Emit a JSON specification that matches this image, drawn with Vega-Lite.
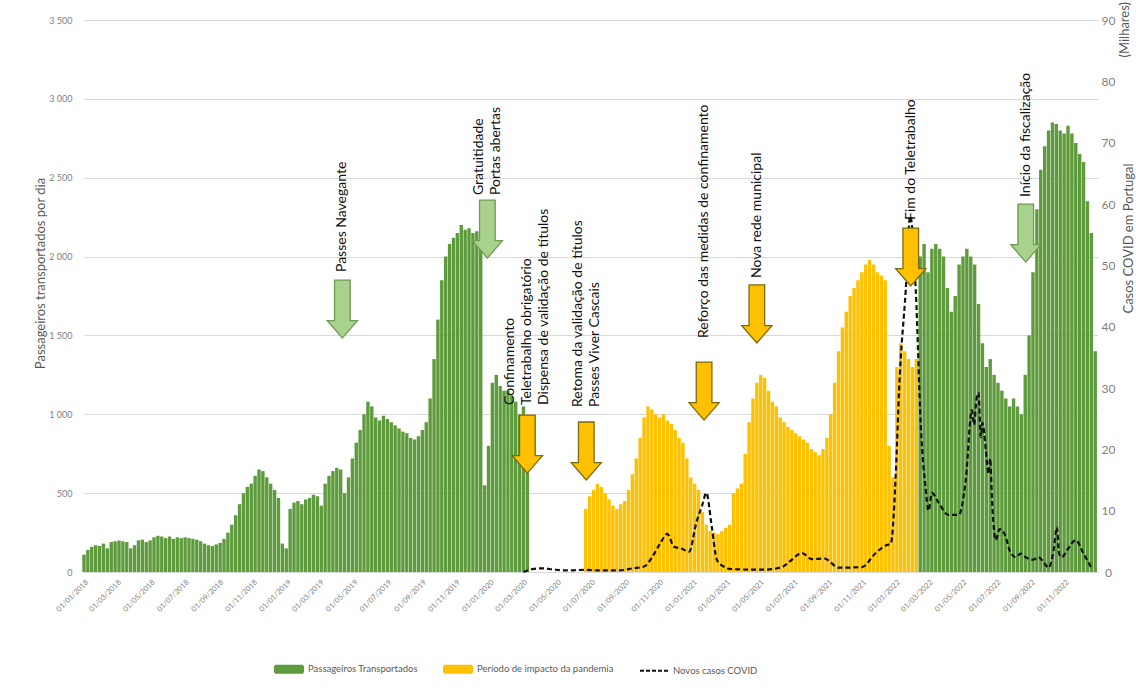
{
"$schema": "https://vega.github.io/schema/vega-lite/v6.json",
"width": 1014, "height": 552,
"autosize": {"type": "none"},
"padding": {"left": 84, "top": 20, "right": 38, "bottom": 117},
"background": "white",
"config": {"font": "Lato", "view": {"stroke": null}},
"title": {"text": "(Milhares)", "orient": "right", "anchor": "start", "angle": 270, "align": "right", "baseline": "middle", "fontSize": 13, "fontWeight": "normal", "color": "#595959", "font": "Lato", "offset": -23, "dx": 12},
"datasets": {
"pax": [
{"w":"2018-01-01","v":110,"p":"a"},{"w":"2018-01-08","v":140,"p":"a"},{"w":"2018-01-15","v":160,"p":"a"},{"w":"2018-01-22","v":170,"p":"a"},{"w":"2018-01-29","v":165,"p":"a"},
{"w":"2018-02-05","v":180,"p":"a"},{"w":"2018-02-12","v":150,"p":"a"},{"w":"2018-02-19","v":190,"p":"a"},{"w":"2018-02-26","v":195,"p":"a"},
{"w":"2018-03-05","v":200,"p":"a"},{"w":"2018-03-12","v":195,"p":"a"},{"w":"2018-03-19","v":190,"p":"a"},{"w":"2018-03-26","v":150,"p":"a"},
{"w":"2018-04-02","v":170,"p":"a"},{"w":"2018-04-09","v":200,"p":"a"},{"w":"2018-04-16","v":205,"p":"a"},{"w":"2018-04-23","v":190,"p":"a"},{"w":"2018-04-30","v":200,"p":"a"},
{"w":"2018-05-07","v":220,"p":"a"},{"w":"2018-05-14","v":230,"p":"a"},{"w":"2018-05-21","v":225,"p":"a"},{"w":"2018-05-28","v":215,"p":"a"},
{"w":"2018-06-04","v":225,"p":"a"},{"w":"2018-06-11","v":210,"p":"a"},{"w":"2018-06-18","v":220,"p":"a"},{"w":"2018-06-25","v":215,"p":"a"},
{"w":"2018-07-02","v":220,"p":"a"},{"w":"2018-07-09","v":215,"p":"a"},{"w":"2018-07-16","v":210,"p":"a"},{"w":"2018-07-23","v":205,"p":"a"},{"w":"2018-07-30","v":195,"p":"a"},
{"w":"2018-08-06","v":180,"p":"a"},{"w":"2018-08-13","v":170,"p":"a"},{"w":"2018-08-20","v":165,"p":"a"},{"w":"2018-08-27","v":175,"p":"a"},
{"w":"2018-09-03","v":185,"p":"a"},{"w":"2018-09-10","v":210,"p":"a"},{"w":"2018-09-17","v":250,"p":"a"},{"w":"2018-09-24","v":300,"p":"a"},
{"w":"2018-10-01","v":360,"p":"a"},{"w":"2018-10-08","v":430,"p":"a"},{"w":"2018-10-15","v":500,"p":"a"},{"w":"2018-10-22","v":540,"p":"a"},{"w":"2018-10-29","v":560,"p":"a"},
{"w":"2018-11-05","v":610,"p":"a"},{"w":"2018-11-12","v":650,"p":"a"},{"w":"2018-11-19","v":640,"p":"a"},{"w":"2018-11-26","v":600,"p":"a"},
{"w":"2018-12-03","v":560,"p":"a"},{"w":"2018-12-10","v":520,"p":"a"},{"w":"2018-12-17","v":470,"p":"a"},{"w":"2018-12-24","v":180,"p":"a"},{"w":"2018-12-31","v":150,"p":"a"},
{"w":"2019-01-07","v":400,"p":"a"},{"w":"2019-01-14","v":440,"p":"a"},{"w":"2019-01-21","v":450,"p":"a"},{"w":"2019-01-28","v":430,"p":"a"},
{"w":"2019-02-04","v":460,"p":"a"},{"w":"2019-02-11","v":470,"p":"a"},{"w":"2019-02-18","v":490,"p":"a"},{"w":"2019-02-25","v":480,"p":"a"},
{"w":"2019-03-04","v":420,"p":"a"},{"w":"2019-03-11","v":560,"p":"a"},{"w":"2019-03-18","v":610,"p":"a"},{"w":"2019-03-25","v":640,"p":"a"},
{"w":"2019-04-01","v":660,"p":"a"},{"w":"2019-04-08","v":650,"p":"a"},{"w":"2019-04-15","v":500,"p":"a"},{"w":"2019-04-22","v":600,"p":"a"},{"w":"2019-04-29","v":720,"p":"a"},
{"w":"2019-05-06","v":820,"p":"a"},{"w":"2019-05-13","v":900,"p":"a"},{"w":"2019-05-20","v":1000,"p":"a"},{"w":"2019-05-27","v":1080,"p":"a"},
{"w":"2019-06-03","v":1050,"p":"a"},{"w":"2019-06-10","v":980,"p":"a"},{"w":"2019-06-17","v":960,"p":"a"},{"w":"2019-06-24","v":990,"p":"a"},
{"w":"2019-07-01","v":970,"p":"a"},{"w":"2019-07-08","v":950,"p":"a"},{"w":"2019-07-15","v":930,"p":"a"},{"w":"2019-07-22","v":910,"p":"a"},{"w":"2019-07-29","v":890,"p":"a"},
{"w":"2019-08-05","v":880,"p":"a"},{"w":"2019-08-12","v":850,"p":"a"},{"w":"2019-08-19","v":840,"p":"a"},{"w":"2019-08-26","v":860,"p":"a"},
{"w":"2019-09-02","v":900,"p":"a"},{"w":"2019-09-09","v":950,"p":"a"},{"w":"2019-09-16","v":1100,"p":"a"},{"w":"2019-09-23","v":1350,"p":"a"},{"w":"2019-09-30","v":1600,"p":"a"},
{"w":"2019-10-07","v":1850,"p":"a"},{"w":"2019-10-14","v":2000,"p":"a"},{"w":"2019-10-21","v":2080,"p":"a"},{"w":"2019-10-28","v":2120,"p":"a"},
{"w":"2019-11-04","v":2150,"p":"a"},{"w":"2019-11-11","v":2200,"p":"a"},{"w":"2019-11-18","v":2170,"p":"a"},{"w":"2019-11-25","v":2180,"p":"a"},
{"w":"2019-12-02","v":2150,"p":"a"},{"w":"2019-12-09","v":2160,"p":"a"},{"w":"2019-12-16","v":2050,"p":"a"},{"w":"2019-12-23","v":550,"p":"a"},{"w":"2019-12-30","v":800,"p":"a"},
{"w":"2020-01-06","v":1200,"p":"a"},{"w":"2020-01-13","v":1250,"p":"a"},{"w":"2020-01-20","v":1180,"p":"a"},{"w":"2020-01-27","v":1150,"p":"a"},
{"w":"2020-02-03","v":1150,"p":"a"},{"w":"2020-02-10","v":1120,"p":"a"},{"w":"2020-02-17","v":1080,"p":"a"},{"w":"2020-02-24","v":1000,"p":"a"},
{"w":"2020-03-02","v":1050,"p":"a"},{"w":"2020-03-09","v":850,"p":"a"},
{"w":"2020-06-22","v":400,"p":"b"},{"w":"2020-06-29","v":480,"p":"b"},
{"w":"2020-07-06","v":520,"p":"b"},{"w":"2020-07-13","v":560,"p":"b"},{"w":"2020-07-20","v":540,"p":"b"},{"w":"2020-07-27","v":500,"p":"b"},
{"w":"2020-08-03","v":460,"p":"b"},{"w":"2020-08-10","v":420,"p":"b"},{"w":"2020-08-17","v":400,"p":"b"},{"w":"2020-08-24","v":430,"p":"b"},{"w":"2020-08-31","v":450,"p":"b"},
{"w":"2020-09-07","v":520,"p":"b"},{"w":"2020-09-14","v":620,"p":"b"},{"w":"2020-09-21","v":720,"p":"b"},{"w":"2020-09-28","v":850,"p":"b"},
{"w":"2020-10-05","v":980,"p":"b"},{"w":"2020-10-12","v":1050,"p":"b"},{"w":"2020-10-19","v":1030,"p":"b"},{"w":"2020-10-26","v":1000,"p":"b"},
{"w":"2020-11-02","v":980,"p":"b"},{"w":"2020-11-09","v":1000,"p":"b"},{"w":"2020-11-16","v":960,"p":"b"},{"w":"2020-11-23","v":940,"p":"b"},{"w":"2020-11-30","v":900,"p":"b"},
{"w":"2020-12-07","v":850,"p":"b"},{"w":"2020-12-14","v":820,"p":"b"},{"w":"2020-12-21","v":720,"p":"b"},{"w":"2020-12-28","v":600,"p":"b"},
{"w":"2021-01-04","v":560,"p":"b"},{"w":"2021-01-11","v":520,"p":"b"},{"w":"2021-01-18","v":380,"p":"b"},{"w":"2021-01-25","v":300,"p":"b"},
{"w":"2021-02-01","v":260,"p":"b"},{"w":"2021-02-08","v":250,"p":"b"},{"w":"2021-02-15","v":240,"p":"b"},{"w":"2021-02-22","v":260,"p":"b"},
{"w":"2021-03-01","v":280,"p":"b"},{"w":"2021-03-08","v":300,"p":"b"},{"w":"2021-03-15","v":500,"p":"b"},{"w":"2021-03-22","v":530,"p":"b"},{"w":"2021-03-29","v":560,"p":"b"},
{"w":"2021-04-05","v":750,"p":"b"},{"w":"2021-04-12","v":950,"p":"b"},{"w":"2021-04-19","v":1100,"p":"b"},{"w":"2021-04-26","v":1200,"p":"b"},
{"w":"2021-05-03","v":1250,"p":"b"},{"w":"2021-05-10","v":1230,"p":"b"},{"w":"2021-05-17","v":1150,"p":"b"},{"w":"2021-05-24","v":1080,"p":"b"},{"w":"2021-05-31","v":1050,"p":"b"},
{"w":"2021-06-07","v":980,"p":"b"},{"w":"2021-06-14","v":950,"p":"b"},{"w":"2021-06-21","v":920,"p":"b"},{"w":"2021-06-28","v":900,"p":"b"},
{"w":"2021-07-05","v":880,"p":"b"},{"w":"2021-07-12","v":860,"p":"b"},{"w":"2021-07-19","v":840,"p":"b"},{"w":"2021-07-26","v":820,"p":"b"},
{"w":"2021-08-02","v":780,"p":"b"},{"w":"2021-08-09","v":760,"p":"b"},{"w":"2021-08-16","v":740,"p":"b"},{"w":"2021-08-23","v":780,"p":"b"},{"w":"2021-08-30","v":850,"p":"b"},
{"w":"2021-09-06","v":1000,"p":"b"},{"w":"2021-09-13","v":1200,"p":"b"},{"w":"2021-09-20","v":1400,"p":"b"},{"w":"2021-09-27","v":1550,"p":"b"},
{"w":"2021-10-04","v":1650,"p":"b"},{"w":"2021-10-11","v":1750,"p":"b"},{"w":"2021-10-18","v":1800,"p":"b"},{"w":"2021-10-25","v":1850,"p":"b"},
{"w":"2021-11-01","v":1900,"p":"b"},{"w":"2021-11-08","v":1950,"p":"b"},{"w":"2021-11-15","v":1980,"p":"b"},{"w":"2021-11-22","v":1950,"p":"b"},{"w":"2021-11-29","v":1900,"p":"b"},
{"w":"2021-12-06","v":1880,"p":"b"},{"w":"2021-12-13","v":1850,"p":"b"},{"w":"2021-12-20","v":800,"p":"b"},{"w":"2021-12-27","v":600,"p":"b"},
{"w":"2022-01-03","v":1300,"p":"b"},{"w":"2022-01-10","v":1450,"p":"b"},{"w":"2022-01-17","v":1400,"p":"b"},{"w":"2022-01-24","v":1350,"p":"b"},{"w":"2022-01-31","v":1300,"p":"b"},
{"w":"2022-02-07","v":1350,"p":"b"},
{"w":"2022-02-14","v":2000,"p":"a"},{"w":"2022-02-21","v":2080,"p":"a"},{"w":"2022-02-28","v":1900,"p":"a"},
{"w":"2022-03-07","v":2050,"p":"a"},{"w":"2022-03-14","v":2080,"p":"a"},{"w":"2022-03-21","v":2050,"p":"a"},{"w":"2022-03-28","v":2000,"p":"a"},
{"w":"2022-04-04","v":1800,"p":"a"},{"w":"2022-04-11","v":1650,"p":"a"},{"w":"2022-04-18","v":1750,"p":"a"},{"w":"2022-04-25","v":1950,"p":"a"},
{"w":"2022-05-02","v":2000,"p":"a"},{"w":"2022-05-09","v":2050,"p":"a"},{"w":"2022-05-16","v":2000,"p":"a"},{"w":"2022-05-23","v":1950,"p":"a"},{"w":"2022-05-30","v":1700,"p":"a"},
{"w":"2022-06-06","v":1450,"p":"a"},{"w":"2022-06-13","v":1300,"p":"a"},{"w":"2022-06-20","v":1350,"p":"a"},{"w":"2022-06-27","v":1250,"p":"a"},
{"w":"2022-07-04","v":1200,"p":"a"},{"w":"2022-07-11","v":1150,"p":"a"},{"w":"2022-07-18","v":1100,"p":"a"},{"w":"2022-07-25","v":1050,"p":"a"},
{"w":"2022-08-01","v":1100,"p":"a"},{"w":"2022-08-08","v":1050,"p":"a"},{"w":"2022-08-15","v":1000,"p":"a"},{"w":"2022-08-22","v":1250,"p":"a"},{"w":"2022-08-29","v":1500,"p":"a"},
{"w":"2022-09-05","v":1900,"p":"a"},{"w":"2022-09-12","v":2300,"p":"a"},{"w":"2022-09-19","v":2550,"p":"a"},{"w":"2022-09-26","v":2700,"p":"a"},
{"w":"2022-10-03","v":2800,"p":"a"},{"w":"2022-10-10","v":2850,"p":"a"},{"w":"2022-10-17","v":2840,"p":"a"},{"w":"2022-10-24","v":2800,"p":"a"},{"w":"2022-10-31","v":2780,"p":"a"},
{"w":"2022-11-07","v":2830,"p":"a"},{"w":"2022-11-14","v":2780,"p":"a"},{"w":"2022-11-21","v":2720,"p":"a"},{"w":"2022-11-28","v":2650,"p":"a"},
{"w":"2022-12-05","v":2600,"p":"a"},{"w":"2022-12-12","v":2350,"p":"a"},{"w":"2022-12-19","v":2150,"p":"a"},{"w":"2022-12-26","v":1400,"p":"a"}
],
"covid": [
{"d":"2020-03-02","c":0.0},{"d":"2020-03-20","c":0.5},{"d":"2020-04-05","c":0.6},{"d":"2020-04-25","c":0.4},{"d":"2020-05-20","c":0.25},
{"d":"2020-06-20","c":0.35},{"d":"2020-07-20","c":0.25},{"d":"2020-08-20","c":0.25},{"d":"2020-09-15","c":0.6},{"d":"2020-10-05","c":0.9},
{"d":"2020-10-20","c":2.5},{"d":"2020-11-02","c":4.5},{"d":"2020-11-16","c":6.2},{"d":"2020-11-28","c":4.1},{"d":"2020-12-12","c":3.8},
{"d":"2020-12-25","c":3.3},{"d":"2021-01-07","c":8.0},{"d":"2021-01-18","c":11.0},{"d":"2021-01-25","c":12.9},{"d":"2021-02-04","c":7.3},
{"d":"2021-02-13","c":2.0},{"d":"2021-02-25","c":0.9},{"d":"2021-03-07","c":0.5},{"d":"2021-04-10","c":0.4},{"d":"2021-05-13","c":0.4},
{"d":"2021-06-10","c":0.8},{"d":"2021-06-28","c":2.0},{"d":"2021-07-16","c":3.1},{"d":"2021-08-03","c":2.1},{"d":"2021-08-25","c":2.2},
{"d":"2021-09-21","c":0.7},{"d":"2021-11-01","c":0.8},{"d":"2021-11-26","c":3.1},{"d":"2021-12-16","c":4.4},{"d":"2021-12-23","c":4.6},
{"d":"2022-01-02","c":18.0},{"d":"2022-01-07","c":29.7},{"d":"2022-01-19","c":46.0},{"d":"2022-01-27","c":58.0},{"d":"2022-02-06","c":46.0},
{"d":"2022-02-15","c":24.0},{"d":"2022-02-24","c":13.4},{"d":"2022-03-01","c":10.0},{"d":"2022-03-07","c":12.9},{"d":"2022-03-19","c":11.3},
{"d":"2022-04-06","c":9.3},{"d":"2022-04-24","c":9.3},{"d":"2022-05-07","c":15.0},{"d":"2022-05-18","c":26.4},{"d":"2022-05-22","c":24.0},
{"d":"2022-05-26","c":28.0},{"d":"2022-05-30","c":29.2},{"d":"2022-06-03","c":22.0},{"d":"2022-06-06","c":24.3},{"d":"2022-06-12","c":20.0},
{"d":"2022-06-17","c":16.0},{"d":"2022-06-20","c":18.5},{"d":"2022-06-23","c":12.2},{"d":"2022-06-30","c":5.2},{"d":"2022-07-07","c":7.0},
{"d":"2022-07-18","c":5.7},{"d":"2022-07-25","c":3.5},{"d":"2022-08-05","c":2.4},{"d":"2022-08-14","c":3.0},{"d":"2022-08-23","c":2.4},
{"d":"2022-09-05","c":2.0},{"d":"2022-09-15","c":2.4},{"d":"2022-09-25","c":1.5},{"d":"2022-10-03","c":0.7},{"d":"2022-10-12","c":3.5},
{"d":"2022-10-18","c":7.3},{"d":"2022-10-22","c":3.0},{"d":"2022-10-27","c":2.4},{"d":"2022-11-05","c":3.5},{"d":"2022-11-21","c":5.2},
{"d":"2022-12-05","c":3.0},{"d":"2022-12-19","c":0.7}
],
"notes": [
{"d":"2019-04-11","ay":1851,"ty":1902,"t":"Passes Navegante","k":"g"},
{"d":"2019-12-28","ay":2358,"ty":2390,"t":"Gratuitidade\nPortas abertas","k":"g"},
{"d":"2020-03-09","ay":995,"ty":1059,"t":"Confinamento\nTeletrabalho obrigatório\nDispensa de validação de títulos","k":"y"},
{"d":"2020-06-23","ay":951,"ty":1046,"t":"Retoma da validação de títulos\nPasses Viver Cascais","k":"y"},
{"d":"2021-01-21","ay":1331,"ty":1484,"t":"Reforço das medidas de confinamento","k":"y"},
{"d":"2021-04-26","ay":1820,"ty":1864,"t":"Nova rede municipal","k":"y"},
{"d":"2022-01-28","ay":2181,"ty":2232,"t":"Fim do Teletrabalho","k":"y"},
{"d":"2022-08-23","ay":2333,"ty":2378,"t":"Início da fiscalização","k":"g"}
]
},
"layer": [
{
"data": {"name": "pax"},
"mark": {"type": "bar", "width": 3.4},
"encoding": {
"x": {"field": "w", "type": "temporal",
"scale": {"type": "utc", "padding": 0, "domain": [{"year": 2018, "month": 1, "date": 1, "utc": true}, {"year": 2022, "month": 12, "date": 31, "utc": true}]},
"axis": {"title": null, "format": "%d/%m/%Y", "tickCount": {"interval": "month", "step": 2}, "labelAngle": -45, "labelFontSize": 7.5, "labelColor": "#808080", "labelPadding": 6, "ticks": false, "grid": false, "domainColor": "#d9d9d9", "labelOverlap": false, "labelFlush": false, "labelBound": false}},
"y": {"field": "v", "type": "quantitative",
"scale": {"domain": [0, 3500], "nice": false},
"axis": {"orient": "left", "values": [0, 500, 1000, 1500, 2000, 2500, 3000, 3500], "labelExpr": "replace(format(datum.value, ','), ',', ' ')", "grid": true, "gridColor": "#d9d9d9", "domain": false, "ticks": false, "labelFontSize": 9, "labelColor": "#7f7f7f", "labelPadding": 12,
"title": "Passageiros transportados por dia", "titleFontSize": 13, "titleColor": "#595959", "titleFontWeight": "normal", "titleAngle": 270, "titleX": -44, "titleY": 253, "titleAlign": "center", "titleBaseline": "middle"}},
"color": {"field": "p", "type": "nominal",
"scale": {"domain": ["a", "b", "c"], "range": ["#5E9B3C", "#FFC000", "#111111"]},
"legend": {"orient": "none", "legendX": 190, "legendY": 634, "direction": "horizontal", "title": null, "symbolSize": 784, "labelFontSize": 9.5, "labelColor": "#595959", "labelFont": "Lato", "columnPadding": 22, "labelOffset": 4, "padding": 0,
"labelExpr": "datum.label == 'a' ? 'Passageiros Transportados' : datum.label == 'b' ? 'Período de impacto da pandemia' : 'Novos casos COVID'",
"encode": {"symbols": {"update": {
"shape": {"signal": "datum.value == 'c' ? 'stroke' : 'M-1,-0.25H1V0.25H-1Z'"},
"fill": {"signal": "datum.value == 'c' ? 'transparent' : (datum.value == 'a' ? '#5E9B3C' : '#FFC000')"},
"stroke": {"signal": "datum.value == 'c' ? '#111111' : 'transparent'"},
"strokeDash": {"signal": "datum.value == 'c' ? [4, 2] : [1, 0]"},
"strokeWidth": {"value": 2},
"opacity": {"value": 1}
}}}}}
}
},
{
"data": {"name": "covid"},
"mark": {"type": "line", "strokeDash": [5, 3], "strokeWidth": 2.2, "interpolate": "monotone"},
"encoding": {
"x": {"field": "d", "type": "temporal"},
"y": {"field": "c", "type": "quantitative",
"scale": {"domain": [0, 90], "nice": false},
"axis": {"orient": "right", "values": [0, 10, 20, 30, 40, 50, 60, 70, 80, 90], "grid": false, "domain": false, "ticks": false, "labelFontSize": 12, "labelColor": "#7f7f7f", "labelPadding": 10, "labelAlign": "center",
"title": "Casos COVID em Portugal", "titleFontSize": 13, "titleColor": "#595959", "titleFontWeight": "normal", "titleAngle": 270, "titleX": 30, "titleY": 218, "titleAlign": "center", "titleBaseline": "middle"}},
"color": {"datum": "c"}
}
},
{
"data": {"name": "notes"},
"layer": [
{
"mark": {"type": "point", "shape": "M-0.27,0H0.27V1.4H0.52L0,2L-0.52,1.4H-0.27Z", "size": 3364, "filled": true, "strokeWidth": 1.3, "opacity": 1},
"encoding": {
"x": {"field": "d", "type": "temporal"},
"y": {"field": "ay", "type": "quantitative", "scale": {"domain": [0, 3500], "nice": false}, "axis": null},
"fill": {"field": "k", "type": "nominal", "scale": {"domain": ["g", "y"], "range": ["#A9D18E", "#FFC000"]}, "legend": null},
"stroke": {"field": "k", "type": "nominal", "scale": {"domain": ["g", "y"], "range": ["#6F9A52", "#7A6A10"]}, "legend": null}
}
},
{
"mark": {"type": "text", "angle": 270, "align": "left", "baseline": "middle", "font": "Lato", "fontSize": 14, "lineBreak": "\n", "lineHeight": 17, "color": "#111111", "dy": {"expr": "-(length(split(datum.t, '\\n')) - 1) * 8.5"}},
"encoding": {
"x": {"field": "d", "type": "temporal"},
"y": {"field": "ty", "type": "quantitative"},
"text": {"field": "t"}
}
}
]
}
],
"resolve": {"scale": {"y": "independent"}}
}
